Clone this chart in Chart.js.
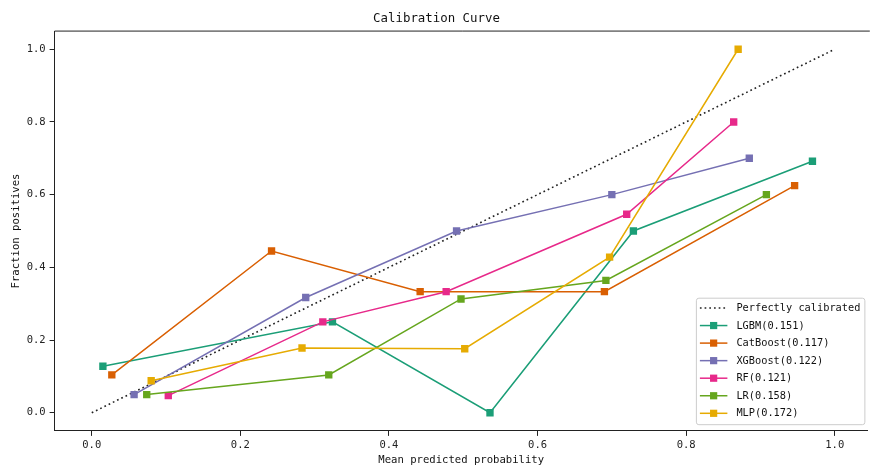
<!DOCTYPE html>
<html>
<head>
<meta charset="utf-8">
<script src="https://cdn.jsdelivr.net/npm/chart.js@4/dist/chart.umd.min.js"></script>
<style>
  html, body { margin: 0; padding: 0; background: #fff; overflow: hidden; }
  canvas { display: block; }
</style>
</head>
<body>
<canvas id="c" width="873" height="465" style="width:873px;height:465px"></canvas>
<script>
// ---- data ----
const perfectX = [0, 1];
const perfectY = [0, 1];

const lgbmX = [0.015, 0.324, 0.536, 0.729, 0.970];
const lgbmY = [0.128, 0.250, 0.000, 0.500, 0.692];

const catX = [0.027, 0.242, 0.442, 0.690, 0.946];
const catY = [0.104, 0.445, 0.333, 0.333, 0.625];

const xgbX = [0.057, 0.288, 0.491, 0.700, 0.885];
const xgbY = [0.050, 0.317, 0.500, 0.600, 0.700];

const rfX = [0.103, 0.311, 0.477, 0.720, 0.864];
const rfY = [0.047, 0.250, 0.333, 0.546, 0.800];

const lrX = [0.074, 0.319, 0.497, 0.692, 0.908];
const lrY = [0.050, 0.104, 0.313, 0.364, 0.600];

const mlpX = [0.080, 0.283, 0.502, 0.697, 0.870];
const mlpY = [0.088, 0.178, 0.176, 0.428, 1.000];

const seriesLabels = ['Perfectly calibrated', 'LGBM(0.151)', 'CatBoost(0.117)', 'XGBoost(0.122)', 'RF(0.121)', 'LR(0.158)', 'MLP(0.172)'];
const seriesColors = ['#222222', '#1b9e77', '#d95f02', '#7570b3', '#e7298a', '#66a61e', '#e6ab02'];
const tickValues = [0, 0.2, 0.4, 0.6, 0.8, 1.0];

const titleText = 'Calibration Curve';
const xTitle = 'Mean predicted probability';
const yTitle = 'Fraction positives';

// axis limits (the reference image is cropped just before the x limit 1.05)
const xMin = -0.05, xMaxVisible = 1.0445, xFullMax = 1.05;
const yMin = -0.05, yMax = 1.05;

const FONT = "'DejaVu Sans Mono', monospace";

function pts(xs, ys) { return xs.map((x, i) => ({ x: x, y: ys[i] })); }

const seriesXY = [
  [perfectX, perfectY], [lgbmX, lgbmY], [catX, catY], [xgbX, xgbY],
  [rfX, rfY], [lrX, lrY], [mlpX, mlpY]
];

const datasets = seriesXY.map((xy, i) => {
  const isPerfect = i === 0;
  return {
    label: seriesLabels[i],
    data: pts(xy[0], xy[1]),
    borderColor: seriesColors[i],
    backgroundColor: seriesColors[i],
    borderWidth: isPerfect ? 1.6 : 1.5,
    borderDash: isPerfect ? [1.7, 3] : [],
    pointStyle: 'rect',
    pointRadius: isPerfect ? 0 : 5.2,
    pointBorderWidth: 0,
    pointHoverRadius: isPerfect ? 0 : 5.2,
    tension: 0,
    fill: false,
    order: seriesXY.length - i
  };
});

// frame (top spine)
const framePlugin = {
  id: 'frame',
  afterDraw(chart) {
    const a = chart.chartArea, ctx = chart.ctx;
    ctx.save();
    ctx.strokeStyle = '#222';
    ctx.lineWidth = 1;
    ctx.beginPath();
    ctx.moveTo(a.left, a.top);
    ctx.lineTo(a.right + 2, a.top);
    ctx.stroke();
    ctx.restore();
  }
};

// matplotlib-style legend (line + square marker handles), anchored lower right of the axes
const legendPlugin = {
  id: 'mplLegend',
  afterDatasetsDraw(chart) {
    const a = chart.chartArea, ctx = chart.ctx;
    const xs = chart.scales.x;
    const boxR = xs.getPixelForValue(xFullMax) - 7;
    const boxB = a.bottom - 6.2;
    const boxW = 168.5, boxH = 126.5;
    const boxL = boxR - boxW, boxT = boxB - boxH;
    ctx.save();
    const r = 2.5;
    ctx.beginPath();
    ctx.moveTo(boxL + r, boxT);
    ctx.lineTo(boxR - r, boxT);
    ctx.quadraticCurveTo(boxR, boxT, boxR, boxT + r);
    ctx.lineTo(boxR, boxB - r);
    ctx.quadraticCurveTo(boxR, boxB, boxR - r, boxB);
    ctx.lineTo(boxL + r, boxB);
    ctx.quadraticCurveTo(boxL, boxB, boxL, boxB - r);
    ctx.lineTo(boxL, boxT + r);
    ctx.quadraticCurveTo(boxL, boxT, boxL + r, boxT);
    ctx.closePath();
    ctx.fillStyle = 'rgba(255,255,255,0.85)';
    ctx.fill();
    ctx.strokeStyle = '#cccccc';
    ctx.lineWidth = 1;
    ctx.stroke();

    const hx0 = boxL + 3.5, hx1 = boxL + 31;
    const tx = boxL + 40;
    const y0 = boxT + 9.8, dy = 17.55;
    ctx.font = '10.3px ' + FONT;
    ctx.textBaseline = 'middle';
    ctx.textAlign = 'left';
    chart.data.datasets.forEach((ds, i) => {
      const y = y0 + i * dy;
      ctx.strokeStyle = ds.borderColor;
      ctx.lineWidth = ds.borderWidth;
      ctx.setLineDash(ds.borderDash || []);
      ctx.beginPath();
      ctx.moveTo(hx0, y);
      ctx.lineTo(hx1, y);
      ctx.stroke();
      ctx.setLineDash([]);
      if (ds.pointRadius > 0) {
        const s = 7.2;
        ctx.fillStyle = ds.backgroundColor;
        ctx.fillRect((hx0 + hx1) / 2 - s / 2, y - s / 2, s, s);
      }
      ctx.fillStyle = '#111';
      ctx.fillText(ds.label, tx, y + 0.5);
    });
    ctx.restore();
  }
};

function fixedTicks(scale) { scale.ticks = tickValues.map(v => ({ value: v })); }
const gridOpts = { display: true, drawOnChartArea: false, drawTicks: true, tickLength: 5, color: '#222', tickWidth: 1 };
const borderOpts = { display: true, color: '#222', width: 1 };

new Chart(document.getElementById('c'), {
  type: 'line',
  data: { datasets: datasets },
  options: {
    responsive: false,
    animation: false,
    devicePixelRatio: 1,
    layout: { padding: { left: 0, right: 0, top: 0, bottom: 0 } },
    plugins: {
      legend: { display: false },
      tooltip: { enabled: false },
      title: {
        display: true,
        text: titleText,
        color: '#111',
        font: { family: FONT, size: 12.4, weight: 'normal', lineHeight: 1.2 },
        padding: { top: 11.8, bottom: 4.4 }
      }
    },
    scales: {
      x: {
        type: 'linear', position: 'bottom',
        min: xMin, max: xMaxVisible,
        afterBuildTicks: fixedTicks,
        afterFit(scale) { scale.height = 34.1; },
        grid: gridOpts, border: borderOpts,
        ticks: {
          color: '#222', padding: 3.5,
          font: { family: FONT, size: 10.5 },
          maxRotation: 0, autoSkip: false,
          callback: v => Number(v).toFixed(1)
        },
        title: {
          display: true, text: xTitle, color: '#111',
          font: { family: FONT, size: 10.6, lineHeight: 0.86 },
          padding: { top: 0, bottom: 0 }
        }
      },
      y: {
        type: 'linear', position: 'left',
        min: yMin, max: yMax,
        afterBuildTicks: fixedTicks,
        afterFit(scale) { scale.width = 54.6; },
        grid: gridOpts, border: borderOpts,
        ticks: {
          color: '#222', padding: 4,
          font: { family: FONT, size: 10.5 },
          autoSkip: false,
          callback: v => Number(v).toFixed(1)
        },
        title: {
          display: true, text: yTitle, color: '#111',
          font: { family: FONT, size: 10.6, lineHeight: 1.2 },
          padding: { top: 10, bottom: 0 }
        }
      }
    }
  },
  plugins: [framePlugin, legendPlugin]
});
</script>
</body>
</html>
